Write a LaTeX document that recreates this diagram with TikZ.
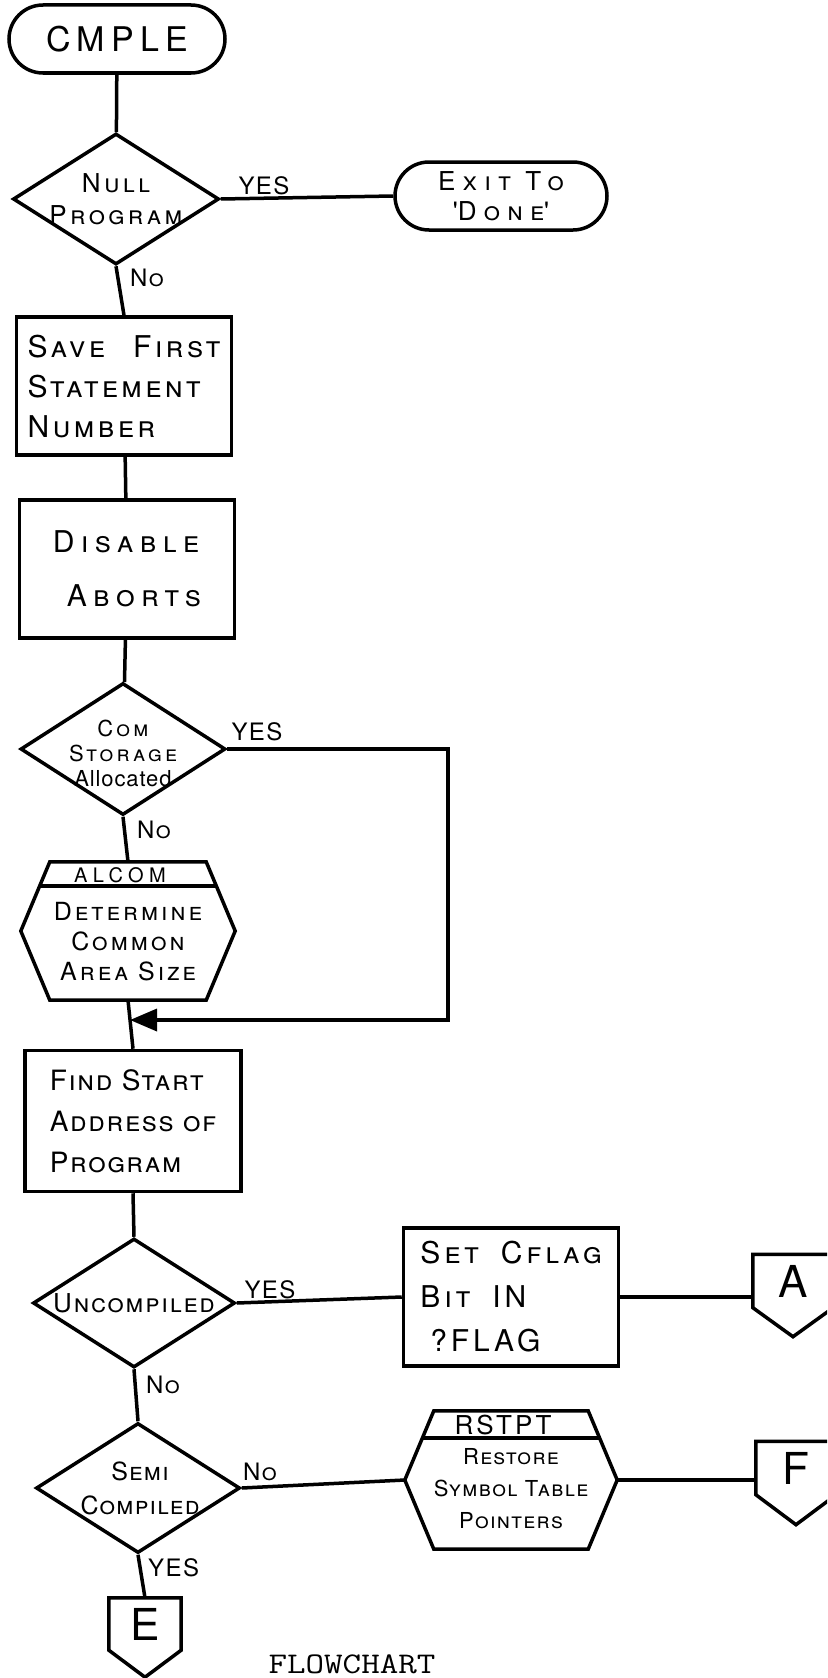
\documentclass[tikz,border=0pt]{standalone}
\usepackage{fontspec}
\usepackage{graphicx}
\setmainfont[LetterSpace=6]{TeX Gyre Heros}
\usetikzlibrary{shapes.geometric,shapes.misc,arrows.meta}

% wider hand lettering
\newcommand{\spread}[1]{\addfontfeature{LetterSpace=#1}}

\tikzset{
  wire/.style={line width=3.5pt},
  terminal/.style={rounded rectangle, draw, wire, minimum height=68pt, inner sep=0pt,
    align=center, font=\fontsize{34}{38}\selectfont\scshape\spread{18}},
  decision/.style={diamond, draw, wire, inner sep=0pt},
  dtext/.style={align=center, inner sep=0pt, font=\fontsize{26}{32}\selectfont\scshape\spread{12}},
  process/.style={rectangle, draw, wire, minimum width=215pt, minimum height=138pt,
    inner xsep=4pt, align=left, font=\fontsize{30}{40}\selectfont\scshape\spread{11}},
  predef/.style={rectangle, minimum width=214pt, minimum height=138pt, inner sep=0pt},
  ptitle/.style={inner sep=0pt, font=\fontsize{20}{22}\selectfont\spread{27}},
  ptext/.style={align=center, inner sep=0pt, font=\fontsize{25}{30}\selectfont\scshape\spread{12}},
  offpage/.style={rectangle, minimum width=80pt, minimum height=53pt, inner sep=0pt,
    font=\fontsize{44}{44}\selectfont},
  lbl/.style={inner sep=0pt, font=\fontsize{24}{28}\selectfont\scshape},
}

\begin{document}
\begin{tikzpicture}[x=1pt,y=-1pt]
\useasboundingbox (0,0) rectangle (827,1678);
\clip (0,0) rectangle (827,1678);

%% START
\node[terminal, minimum width=216pt] (cmple) at (117,39) {CMPLE};

%% NULL PROGRAM ?
\node[decision, minimum width=206pt, minimum height=131pt] (null) at (116,199) {};
\node[dtext, font=\fontsize{26}{32}\selectfont\scshape\spread{13}] (null-t) at (null) {Null\\Program};
\node[terminal, minimum width=212pt, font=\fontsize{26}{30}\selectfont\scshape\spread{28}] (exit) at (501,196)
  {Exit To\\\textquotesingle Done\textquotesingle};
\draw[wire] (cmple) -- (null);
\draw[wire] (null.east) -- (exit.west);
\node[lbl] (yes1) at (264,186) {YES};
\node[lbl, anchor=west] (no1) at (130,278) {No};

%% SAVE / DISABLE
\node[process] (save) at (124,386) {Save\hspace{28pt}First\\Statement\\Number};
\node[process, font=\fontsize{30}{40}\selectfont\scshape\spread{21}] (disable) at (127,569)
  {Disable\\[14pt]\hspace*{14pt}Aborts};
\draw[wire] (null.south) -- (save.north);
\draw[wire] (save) -- (disable);

%% COM STORAGE ?
\node[decision, minimum width=205pt, minimum height=132pt] (com) at (123,749) {};
\node[dtext, font=\fontsize{22}{25}\selectfont\scshape\spread{15}] (com-t) at ([yshift=-4pt]com.center)
  {Com\\Storage\\{\upshape\spread{4}Allocated}};
\draw[wire] (disable) -- (com);
\node[lbl] (yes2) at (257,732) {YES};
\node[lbl, anchor=west] (no2) at (137,830) {No};

%% ALCOM
\node[predef] (alcom) at (128,931) {};
\draw[wire] ([xshift=29pt]alcom.north west) -- ([xshift=-29pt]alcom.north east)
  -- (alcom.east) -- ([xshift=-29pt]alcom.south east)
  -- ([xshift=29pt]alcom.south west) -- (alcom.west) -- cycle;
\draw[wire] ([xshift=18pt,yshift=-24pt]alcom.north west) -- ([xshift=-18pt,yshift=-24pt]alcom.north east);
\node[ptitle] (alcom-t) at ([xshift=-8pt,yshift=-13pt]alcom.north) {ALCOM};
\node[ptext] (alcom-b) at ([yshift=-11pt]alcom.center) {Determine\\Common\\Area Size};
\draw[wire] (com.south) -- (alcom.north);

%% FIND START ADDRESS
\node[process, minimum width=216pt, minimum height=141pt, font=\fontsize{28}{41}\selectfont\scshape\spread{6}]
  (find) at (133,1121) {Find Start\\Address of\\Program};
\draw[wire] (alcom.south) -- (find.north);

% yes branch of COM STORAGE joins above FIND
\coordinate (loop) at (448,1020);
\coordinate (join) at (130,1020);
\draw[wire, -{Triangle[length=27pt,width=22pt]}] (com.east) -| (loop) -- (join);

%% UNCOMPILED ?
\node[decision, minimum width=202pt, minimum height=129pt] (unc) at (134,1303) {};
\node[dtext, font=\fontsize{26}{32}\selectfont\scshape\spread{7}] (unc-t) at (unc) {Uncompiled};
\draw[wire] (find.south) -- (unc.north);
\node[process, font=\fontsize{30}{44}\selectfont\scshape\spread{13}] (cflag) at (511,1297)
  {Set\hspace{22pt}Cflag\\Bit\hspace{22pt}IN\\\hspace*{10pt}?FLAG};
\draw[wire] (unc.east) -- (cflag.west);
\node[lbl] (yes3) at (270,1290) {YES};

% connector A
\node[offpage] (conA) at (793,1281) {A};
\draw[wire] (conA.north west) -- (conA.north east) -- (conA.south east)
  -- ([yshift=-29pt]conA.south) -- (conA.south west) -- cycle;
\draw[wire] (cflag.east) -- (cflag.east -| conA.west);

%% SEMI COMPILED ?
\node[decision, minimum width=204pt, minimum height=130pt] (semi) at (138,1488) {};
\node[dtext, font=\fontsize{25}{34}\selectfont\scshape\spread{5}] (semi-t) at ([xshift=2pt]semi.center) {Semi\\Compiled};
\draw[wire] (unc.south) -- (semi.north);
\node[lbl, anchor=west] (no3) at (146,1385) {No};

%% RSTPT
\node[predef, minimum width=212pt] (rstpt) at (511,1480) {};
\draw[wire] ([xshift=29pt]rstpt.north west) -- ([xshift=-29pt]rstpt.north east)
  -- (rstpt.east) -- ([xshift=-29pt]rstpt.south east)
  -- ([xshift=29pt]rstpt.south west) -- (rstpt.west) -- cycle;
\draw[wire] ([xshift=18pt,yshift=-27pt]rstpt.north west) -- ([xshift=-18pt,yshift=-27pt]rstpt.north east);
\node[ptitle, font=\fontsize{26}{28}\selectfont\spread{12}] (rstpt-t) at ([xshift=-8pt,yshift=-14pt]rstpt.north) {RSTPT};
\node[ptext, font=\fontsize{22}{32}\selectfont\scshape\spread{6}] (rstpt-b) at ([yshift=-9pt]rstpt.center)
  {Restore\\Symbol Table\\Pointers};
\draw[wire] (semi.east) -- (rstpt.west);
\node[lbl] (no4) at (260,1472) {No};

% connector F
\node[offpage] (conF) at (796,1468) {F};
\draw[wire] (conF.north west) -- (conF.north east) -- (conF.south east)
  -- ([yshift=-30pt]conF.south) -- (conF.south west) -- cycle;
\draw[wire] (rstpt.east) -- (rstpt.east -| conF.west);

% connector E
\node[offpage, minimum width=72pt, minimum height=52pt] (conE) at (145,1624) {E};
\draw[wire] (conE.north west) -- (conE.north east) -- (conE.south east)
  -- ([yshift=-27pt]conE.south) -- (conE.south west) -- cycle;
\draw[wire] (semi.south) -- (conE.north);
\node[lbl, anchor=west] (yes4) at (148,1568) {YES};

%% CAPTION
\node[font=\fontsize{30}{32}\selectfont\ttfamily] (caption) at (352,1664) {\scalebox{1.2}[1]{FLOWCHART}};
\end{tikzpicture}
\end{document}
